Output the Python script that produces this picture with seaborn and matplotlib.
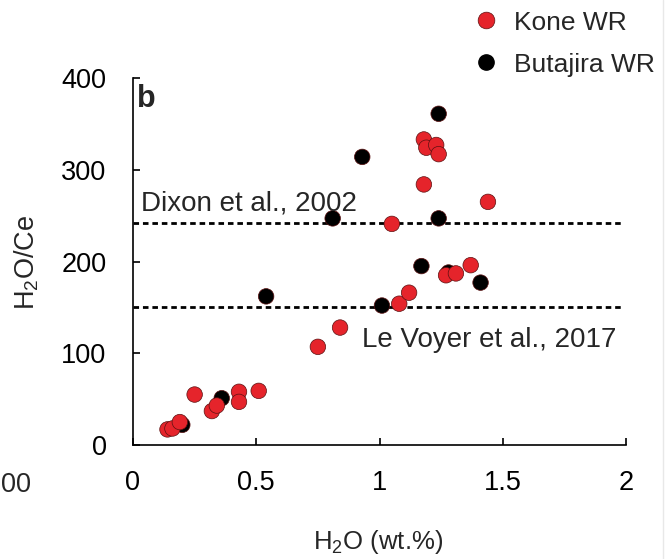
import numpy as np
import pandas as pd
import matplotlib
matplotlib.use("Agg")
import matplotlib.pyplot as plt
import seaborn as sns
from matplotlib.lines import Line2D

# ---- data ----
kone_x = [0.14, 0.16, 0.19, 0.25, 0.32, 0.34, 0.43, 0.43, 0.51, 0.75, 0.84,
          1.05, 1.08, 1.12, 1.18, 1.18, 1.19, 1.23, 1.24, 1.27, 1.31, 1.37, 1.44]
kone_y = [17, 18, 25, 55, 37, 43, 58, 47, 59, 107, 128,
          241, 154, 166, 333, 284, 324, 327, 317, 185, 187, 196, 265]
butajira_x = [0.20, 0.36, 0.54, 0.81, 0.93, 1.01, 1.17, 1.24, 1.24, 1.28, 1.41]
butajira_y = [22, 51, 162, 247, 314, 152, 195, 361, 247, 188, 177]
groups = ["Butajira WR", "Kone WR"]
ref_values = [242, 150]
ref_labels = ["Dixon et al., 2002", "Le Voyer et al., 2017"]
x_ticks = [0, 0.5, 1, 1.5, 2]
x_tick_labels = ["0", "0.5", "1", "1.5", "2"]
y_ticks = [0, 100, 200, 300, 400]

RED = "#e5242b"
BLACK = "#000000"

sns.set_theme(style="ticks")
plt.rcParams["font.family"] = ["Liberation Sans", "DejaVu Sans"]
plt.rcParams["mathtext.fontset"] = "custom"
plt.rcParams["mathtext.rm"] = "Liberation Sans"
plt.rcParams["mathtext.it"] = "Liberation Sans:italic"
plt.rcParams["mathtext.bf"] = "Liberation Sans:bold"

df = pd.concat([
    pd.DataFrame({"x": butajira_x, "y": butajira_y, "group": groups[0]}),
    pd.DataFrame({"x": kone_x, "y": kone_y, "group": groups[1]}),
], ignore_index=True)

fig = plt.figure(figsize=(6.7, 5.59), dpi=100)
ax = fig.add_axes([133 / 670, 1 - 445 / 559, 493 / 670, 367 / 559])

# reference lines
for v in ref_values:
    ax.axhline(v, xmin=0, xmax=0.99, color="black", lw=2.0,
               dashes=(2.0, 1.4), zorder=1)

sns.scatterplot(data=df, x="x", y="y", hue="group", hue_order=groups,
                palette={groups[0]: BLACK, groups[1]: RED},
                s=125, edgecolor="#5a1010", linewidth=0.5,
                legend=False, ax=ax, zorder=3)

ax.text(0.031, 256, ref_labels[0], fontsize=20, ha="left", va="baseline")
ax.text(0.928, 107, ref_labels[1], fontsize=20, ha="left", va="baseline")
ax.text(0.018, 394, "b", fontsize=22, fontweight="bold", ha="left", va="top")

ax.set_xlim(0, 2)
ax.set_ylim(0, 400)
ax.set_xticks(x_ticks)
ax.set_xticklabels(x_tick_labels)
ax.set_yticks(y_ticks)
for s in ["top", "right"]:
    ax.spines[s].set_visible(False)
for s in ["left", "bottom"]:
    ax.spines[s].set_linewidth(1.2)
    ax.spines[s].set_color("black")
ax.tick_params(direction="in", length=5, width=1.2, labelsize=19.5,
               colors="black")
ax.tick_params(axis="x", pad=18)
ax.tick_params(axis="y", pad=19)

ax.set_xlabel(r"$\mathregular{H_2O}$ (wt.%)", fontsize=18.5)
ax.set_ylabel(r"$\mathregular{H_2O/Ce}$", fontsize=19.5)
ax.xaxis.set_label_coords((378 - 133) / 493, (445 - 528) / 367)
ax.yaxis.set_label_coords((41 - 133) / 493, (445 - 262) / 367)

handles = [
    Line2D([], [], marker="o", ls="none", markersize=12, markerfacecolor=RED,
           markeredgecolor="#5a1010", markeredgewidth=0.5),
    Line2D([], [], marker="o", ls="none", markersize=11, markerfacecolor=BLACK,
           markeredgecolor=BLACK),
]
fig.legend(handles, ["Kone WR", "Butajira WR"], loc="upper left",
           bbox_to_anchor=(470 / 670, 1 - 8 / 559), frameon=False, fontsize=19,
           handlelength=1.0, handletextpad=0.55, labelspacing=0.68,
           borderaxespad=0.0, borderpad=0.1)

# label fragment from a neighbouring panel and faint border line
fig.text(1 / 670, 1 - 485 / 559, "00", fontsize=19.5, ha="left", va="center")
fig.add_artist(Line2D([663 / 670, 663 / 670], [0, 1], color="#e8e8e8", lw=1,
                      transform=fig.transFigure))

fig.savefig("out.png", dpi=100)
